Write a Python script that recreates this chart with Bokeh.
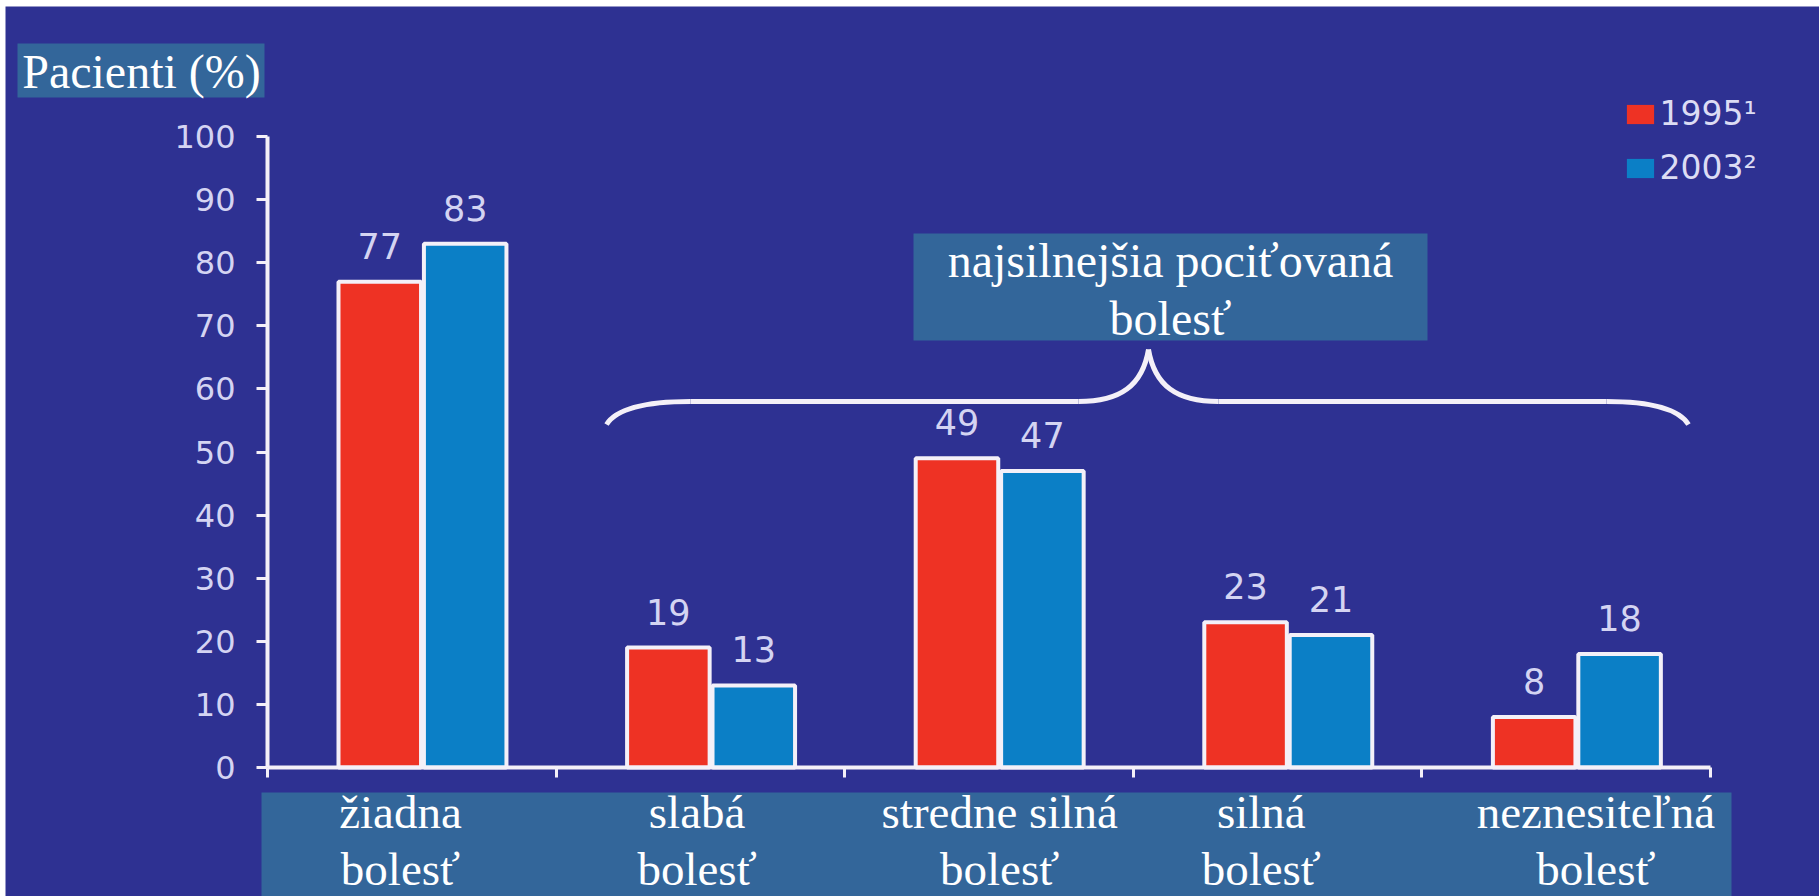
from bokeh.plotting import figure
from bokeh.models import (Range1d, FixedTicker, Label, BoxAnnotation, Legend,
                          LegendItem, Spacer)
from bokeh.layouts import column, row
from bokeh.core.properties import value
from bokeh.embed import file_html
from bokeh.resources import INLINE

# ---------------- data ----------------
categories = ["žiadna\nbolesť", "slabá\nbolesť", "stredne silná\nbolesť",
              "silná\nbolesť", "neznesiteľná\nbolesť"]
series_1995 = [77, 19, 49, 23, 8]
series_2003 = [83, 13, 47, 21, 18]
series_names = ["1995¹", "2003²"]
y_ticks = [0, 10, 20, 30, 40, 50, 60, 70, 80, 90, 100]
y_title = "Pacienti (%)"
bracket_title = "najsilnejšia pociťovaná\nbolesť"

# ---------------- style / layout ----------------
BG = "#2e3192"
RED = "#ee3224"
BLUE = "#0b7fc6"
BOX = "#33669a"
OUT = "#f4f0f8"
TXT = "#d4d4f2"
SERIF = "Liberation Serif"
SANS = "DejaVu Sans"

PAGE_W, PAGE_H = 1819, 896
OFF_X, OFF_Y = 5, 6               # white page strips left / top
FIG_W, FIG_H = PAGE_W - OFF_X, PAGE_H - OFF_Y
AXIS_X = 267                      # page px of the y axis
AXIS_Y = 767                      # page px of the x axis (value 0)
PX_PER_UNIT_Y = 6.31
PX_PER_CAT = 288.6

GROUP_SHIFT = 0.537
DODGE = 0.148
BAR_W = 0.286


def dx(px):   # page px -> data x
    return (px - AXIS_X) / PX_PER_CAT


def dy(py):   # page px -> data y
    return (AXIS_Y - py) / PX_PER_UNIT_Y


p = figure(width=FIG_W, height=FIG_H,
           x_range=Range1d(dx(OFF_X), dx(PAGE_W)),
           y_range=Range1d(dy(PAGE_H), dy(OFF_Y)),
           output_backend="svg", toolbar_location=None,
           min_border=0, min_border_left=0, min_border_right=0,
           min_border_top=0, min_border_bottom=0,
           background_fill_color=BG, border_fill_color=BG,
           outline_line_color=None)
p.grid.visible = False

# y axis
ya = p.yaxis[0]
ya.fixed_location = 0
ya.ticker = FixedTicker(ticks=y_ticks)
ya.bounds = (0, 100)
ya.axis_line_color = OUT
ya.axis_line_width = 4
ya.major_tick_line_color = OUT
ya.major_tick_line_width = 3
ya.major_tick_out = 11
ya.major_tick_in = 0
ya.minor_tick_line_color = None
ya.major_label_text_font = SANS
ya.major_label_text_font_size = "32px"
ya.major_label_text_color = TXT
ya.major_label_standoff = 21

# x axis
xa = p.xaxis[0]
xa.fixed_location = 0
xa.ticker = FixedTicker(ticks=list(range(len(categories) + 1)))
xa.bounds = (0, len(categories))
xa.axis_line_color = OUT
xa.axis_line_width = 4
xa.major_tick_line_color = OUT
xa.major_tick_line_width = 3
xa.major_tick_out = 10
xa.major_tick_in = 0
xa.minor_tick_line_color = None
xa.major_label_text_color = None

# boxes behind texts
for l, r, t, b in ((17, 264, 43, 97),        # y title
                   (261, 1731, 792, PAGE_H),  # category band
                   (913, 1427, 233, 340)):    # bracket title
    p.add_layout(BoxAnnotation(left=dx(l), right=dx(r), top=dy(t), bottom=dy(b),
                               fill_color=BOX, fill_alpha=1, line_color=None,
                               level="underlay"))

# bars
idx = list(range(len(categories)))
x_red = [i + GROUP_SHIFT - DODGE for i in idx]
x_blue = [i + GROUP_SHIFT + DODGE for i in idx]

r_red = p.vbar(x=x_red, top=series_1995, width=BAR_W, bottom=0,
               fill_color=RED, line_color=None)
r_blue = p.vbar(x=x_blue, top=series_2003, width=BAR_W, bottom=0,
                fill_color=BLUE, line_color=None)
p.vbar(x=x_red, top=series_1995, width=BAR_W, bottom=0,
       fill_color=None, line_color=OUT, line_width=4)
p.vbar(x=x_blue, top=series_2003, width=BAR_W, bottom=0,
       fill_color=None, line_color=OUT, line_width=4)

# value labels
for xs, vals in ((x_red, series_1995), (x_blue, series_2003)):
    p.text(x=xs, y=vals, text=[str(v) for v in vals],
           text_align="center", text_baseline="middle", y_offset=-36,
           text_font=value(SANS), text_font_size="35px", text_color=TXT)

# legend
legend = Legend(items=[LegendItem(label=series_names[0], renderers=[r_red]),
                       LegendItem(label=series_names[1], renderers=[r_blue])],
                location=(1622.5 - OFF_X, PAGE_H - 187),
                background_fill_alpha=0, border_line_color=None,
                padding=0, margin=0, spacing=15, label_height=38,
                glyph_width=34, glyph_height=24, label_standoff=3,
                label_text_font=SANS, label_text_font_size="33px",
                label_text_color="#dcdcf4")
p.add_layout(legend)

# y title
p.add_layout(Label(x=dx(141), y=dy(71), text=y_title,
                   text_align="center", text_baseline="middle",
                   text_font=SERIF, text_font_size="48px", text_color="white"))

# category labels
label_nudge = [-22, -14, 0, -27, 19]
for i, cat in enumerate(categories):
    p.add_layout(Label(x=i + GROUP_SHIFT, y=dy(840), x_offset=label_nudge[i],
                       text=cat, text_align="center", text_baseline="middle",
                       text_line_height=1.09,
                       text_font=SERIF, text_font_size="47px", text_color="white"))

# bracket title
p.add_layout(Label(x=dx(1170), y=dy(289), text=bracket_title,
                   text_align="center", text_baseline="middle",
                   text_line_height=1.1,
                   text_font=SERIF, text_font_size="48px", text_color="white"))

# brace
BY, BTIP, BEND = 401, 349, 424
L0, L1, C, R0, R1 = 606, 690, 1148, 1606, 1688
CL, CR = 1078, 1218
p.bezier(x0=[dx(L0), dx(CL), dx(C), dx(R0)],
         y0=[dy(BEND), dy(BY), dy(BTIP), dy(BY)],
         x1=[dx(L1), dx(C), dx(CR), dx(R1)],
         y1=[dy(BY), dy(BTIP), dy(BY), dy(BEND)],
         cx0=[dx(616), dx(1120), dx(1154), dx(1650)],
         cy0=[dy(408), dy(BY), dy(385), dy(BY)],
         cx1=[dx(644), dx(1142), dx(1176), dx(1678)],
         cy1=[dy(BY), dy(385), dy(BY), dy(408)],
         line_color=OUT, line_width=5)
p.segment(x0=[dx(L1), dx(CR)], y0=[dy(BY), dy(BY)],
          x1=[dx(CL), dx(R0)], y1=[dy(BY), dy(BY)],
          line_color=OUT, line_width=5)

layout = column(Spacer(height=OFF_Y, width=PAGE_W),
                row(Spacer(width=OFF_X, height=FIG_H), p, spacing=0),
                spacing=0)

open("out.html", "w").write(file_html(layout, INLINE))
